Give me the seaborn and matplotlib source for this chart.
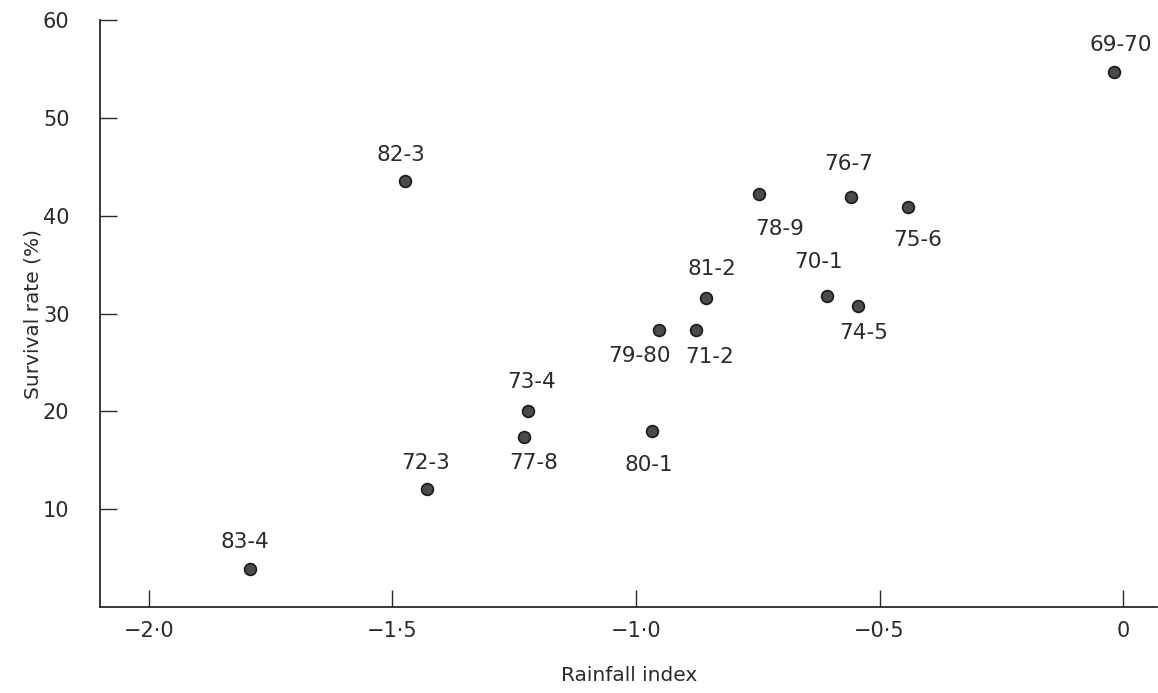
import numpy as np
import pandas as pd
import matplotlib as mpl
mpl.use("Agg")
import matplotlib.pyplot as plt
import seaborn as sns

sns.set_style("ticks")
plt.rcParams['font.family'] = ['DejaVu Sans']

# data
seasons = ["69-70", "82-3", "76-7", "78-9", "75-6", "81-2", "70-1", "74-5",
           "79-80", "71-2", "73-4", "77-8", "80-1", "72-3", "83-4"]
rainfall = [-0.018, -1.474, -0.559, -0.747, -0.441, -0.856, -0.608, -0.544,
            -0.953, -0.877, -1.222, -1.230, -0.967, -1.429, -1.793]
survival = [54.7, 43.6, 41.9, 42.2, 40.9, 31.6, 31.8, 30.8,
            28.3, 28.3, 20.0, 17.4, 18.0, 12.1, 3.9]

xticks = [-2.0, -1.5, -1.0, -0.5, 0]
xticklabels = ["\u22122\u00b70", "\u22121\u00b75", "\u22121\u00b70", "\u22120\u00b75", "0"]
yticks = [10, 20, 30, 40, 50, 60]

df = pd.DataFrame({"season": seasons, "rain": rainfall, "surv": survival})

# label placement (pixels, relative to the point)
offsets = {
    "69-70": (6, 27), "82-3": (-4, 26), "76-7": (-2, 33), "78-9": (20, -35),
    "75-6": (9, -33), "81-2": (6, 29), "70-1": (-8, 34), "74-5": (6, -27),
    "79-80": (-19, -26), "71-2": (14, -27), "73-4": (4, 29), "77-8": (10, -26),
    "80-1": (-3, -34), "72-3": (-1, 26), "83-4": (-5, 27),
}

ink = "#2a2a2a"
fig = plt.figure(figsize=(11.58, 6.93), dpi=100)
ax = fig.add_axes([0.0864, 0.124, 0.913, 0.847])

sns.scatterplot(data=df, x="rain", y="surv", ax=ax, s=72, color="#4a4a4a",
                edgecolor="#1a1a1a", linewidth=1.2, zorder=3)

for s, xv, yv in zip(seasons, rainfall, survival):
    dx, dy = offsets[s]
    ax.annotate(s, (xv, yv), xytext=(dx, dy), textcoords="offset pixels",
                ha="center", va="center", fontsize=15.5, color=ink)

ax.set_xlim(-2.10, 0.07)
ax.set_ylim(0, 60)
ax.set_xticks(xticks)
ax.set_xticklabels(xticklabels)
ax.set_yticks(yticks)
ax.tick_params(direction="in", length=12, width=1, colors=ink, labelsize=15)
ax.tick_params(axis="x", pad=10)
ax.tick_params(axis="y", pad=22)
ax.set_xlabel("Rainfall index", fontsize=14.5, color=ink, labelpad=18)
ax.set_ylabel("Survival rate (%)", fontsize=14.5, color=ink, labelpad=0)
sns.despine(ax=ax)
for sp in ("left", "bottom"):
    ax.spines[sp].set_color(ink)
    ax.spines[sp].set_linewidth(1.3)

fig.savefig("out.png", dpi=100)
